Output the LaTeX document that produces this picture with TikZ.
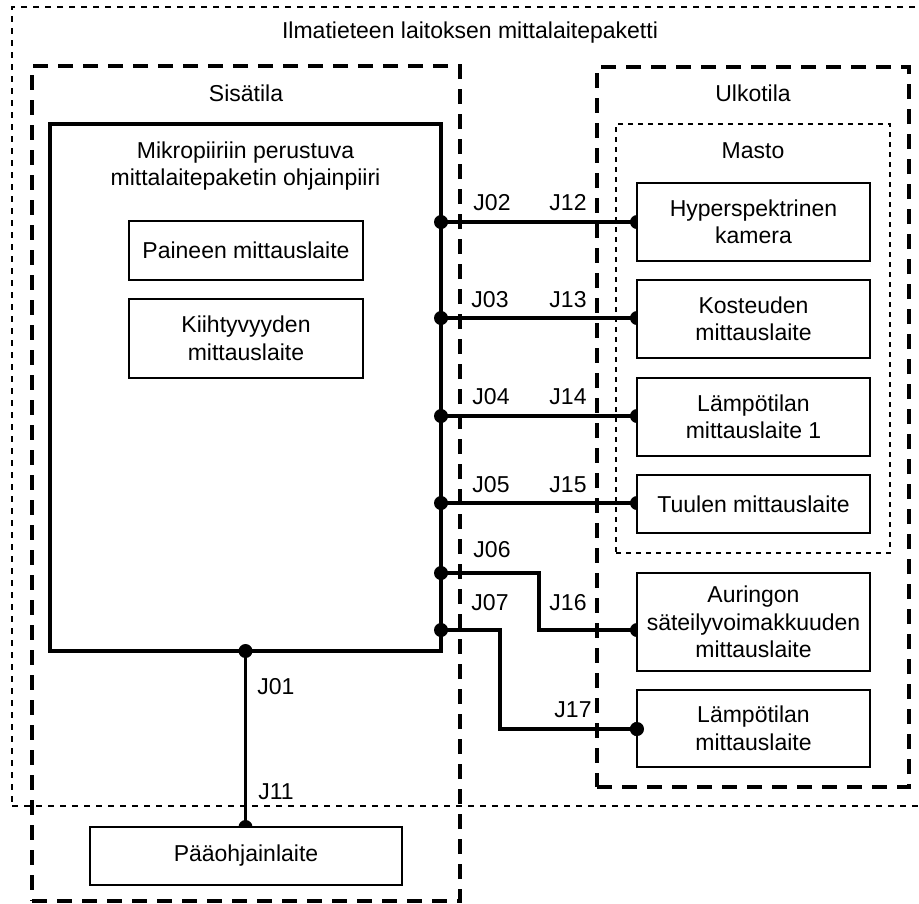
\documentclass[tikz,border=0pt]{standalone}
\usepackage{fontspec}
\setmainfont{Liberation Sans}
\begin{document}
\begin{tikzpicture}[x=1pt,y=-1pt,
  txt/.style={font=\fontsize{23}{27.5}\selectfont, align=center, inner sep=0pt},
  box/.style={draw, line width=2.2pt, fill=white, rectangle, txt},
  region/.style={draw, rectangle, inner sep=0pt, dash pattern=on 15pt off 10pt, line width=3.4pt},
  thinregion/.style={draw, rectangle, inner sep=0pt, dash pattern=on 6pt off 6pt, line width=1.5pt},
  conn/.style={line width=3.6pt},
  dot/.style={fill=black}
]
\useasboundingbox (0,0) rectangle (919,903);
% containers
\node[thinregion, minimum width=928, minimum height=799] (outer) at (476,406.5) {};
\node[region, minimum width=428, minimum height=835] (sisa) at (246,483.5) {};
\node[region, minimum width=312, minimum height=720] (ulko) at (753,427) {};
\node[thinregion, dash pattern=on 5pt off 5pt, minimum width=274, minimum height=429] (masto) at (753,338.5) {};
\node[txt] (title) at (470,33) {Ilmatieteen laitoksen mittalaitepaketti};
\node[txt] (sisal) at (246,93) {Sisätila};
\node[txt] (ulkol) at (753,93) {Ulkotila};
\node[txt] (mastol) at (753,151) {Masto};
% main box
\node[draw, line width=3.4pt, rectangle, fill=white, inner sep=0pt, minimum width=391, minimum height=527] (main) at (245.5,387.5) {};
\node[txt] (maintxt) at (245.5,166) {Mikropiiriin perustuva\\mittalaitepaketin ohjainpiiri};
\node[box, minimum width=234, minimum height=59] (paine) at (246,250.5) {Paineen mittauslaite};
\node[box, minimum width=234, minimum height=79] (kiiht) at (246,338.5) {Kiihtyvyyden\\mittauslaite};
% connector coordinates
\coordinate (p2) at (441,222);
\coordinate (p3) at (441,318);
\coordinate (p4) at (441,416);
\coordinate (p5) at (441,503);
\coordinate (p6) at (441,573);
\coordinate (p7) at (441,630);
\coordinate (b6) at (539,573);
\coordinate (b7) at (500,630);
\coordinate (q2) at (637,222);
\coordinate (q3) at (637,318);
\coordinate (q4) at (637,416);
\coordinate (q5) at (637,503);
\coordinate (q6) at (637,630);
\coordinate (q7) at (637,729);
\coordinate (p1) at (245.5,651);
\coordinate (q1) at (245.5,827);
% connectors
\draw[conn] (p2) -- (q2);
\draw[conn] (p3) -- (q3);
\draw[conn] (p4) -- (q4);
\draw[conn] (p5) -- (q5);
\draw[conn] (p6) -- (b6) |- (q6);
\draw[conn] (p7) -- (b7) |- (q7);
\draw[conn] (p1) -- (q1);
% dots
\foreach \p in {p1,p2,p3,p4,p5,p6,p7,q1,q2,q3,q4,q5,q6,q7} \fill[dot] (\p) circle (7pt);
% right boxes
\node[box, minimum width=233, minimum height=78] (hyper) at (753.5,222) {Hyperspektrinen\\kamera};
\node[box, minimum width=233, minimum height=78] (kost) at (753.5,319) {Kosteuden\\mittauslaite};
\node[box, minimum width=233, minimum height=78] (lamp1) at (753.5,417) {Lämpötilan\\mittauslaite 1};
\node[box, minimum width=233, minimum height=58] (tuul) at (753.5,504) {Tuulen mittauslaite};
\node[box, minimum width=233, minimum height=98] (aur) at (753.5,622) {Auringon\\säteilyvoimakkuuden\\mittauslaite};
\node[box, minimum width=233, minimum height=77] (lamp) at (753.5,728.5) {Lämpötilan\\mittauslaite};
\node[box, minimum width=312, minimum height=58] (paa) at (246,856) {Pääohjainlaite};
\fill[dot] (q7) circle (7pt);
% labels
\node[txt] (l02) at (492,203) {J02};
\node[txt] (l12) at (568,203) {J12};
\node[txt] (l03) at (490,300) {J03};
\node[txt] (l13) at (568,300) {J13};
\node[txt] (l04) at (491,397) {J04};
\node[txt] (l14) at (568,397) {J14};
\node[txt] (l05) at (491,485) {J05};
\node[txt] (l15) at (568,485) {J15};
\node[txt] (l06) at (492,550) {J06};
\node[txt] (l07) at (490,603) {J07};
\node[txt] (l16) at (568,603) {J16};
\node[txt] (l17) at (573,710) {J17};
\node[txt] (l01) at (276,687) {J01};
\node[txt] (l11) at (276,792) {J11};
\end{tikzpicture}
\end{document}
